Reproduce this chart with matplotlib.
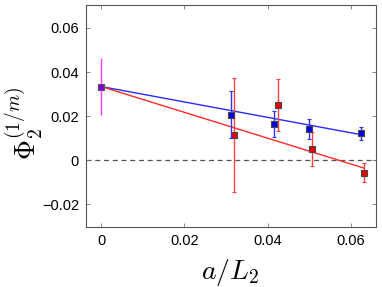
import numpy as np
import matplotlib
matplotlib.use("Agg")
import matplotlib.pyplot as plt

plt.rcParams['font.family'] = ['Liberation Sans', 'DejaVu Sans']
plt.rcParams['mathtext.fontset'] = 'cm'

# data
x0, y0, e0 = 0.0, 0.0334, 0.013

xb = [0.0312, 0.0416, 0.0499, 0.0625]
yb = [0.0207, 0.0164, 0.0143, 0.0122]
eb = [0.0106, 0.0060, 0.0045, 0.0029]

xr = [0.0319, 0.0424, 0.0506, 0.0631]
yr = [0.0114, 0.0250, 0.0051, -0.0056]
er = [0.0258, 0.0117, 0.0079, 0.0044]

fit_b = (0.0334, -0.349)
fit_r = (0.0334, -0.585)

xticks = [0, 0.02, 0.04, 0.06]
xticklabels = ['0', '0.02', '0.04', '0.06']
yticks = [-0.02, 0, 0.02, 0.04, 0.06]
yticklabels = ['\u22120.02', '0', '0.02', '0.04', '0.06']

fig = plt.figure(figsize=(3.82, 2.87), dpi=100)
ax = fig.add_axes([0.2251, 0.209, 0.7592, 0.7736])

ax.axhline(0, color='#555555', lw=0.9, ls=(0, (4, 3)), zorder=1)

xs = np.array([0, 0.0625])
ax.plot(xs, fit_b[0] + fit_b[1] * xs, color='#2a2aff', lw=1.0, zorder=2)
xs = np.array([0, 0.0631])
ax.plot(xs, fit_r[0] + fit_r[1] * xs, color='#ff2a2a', lw=1.0, zorder=2)

ax.errorbar(xr, yr, yerr=er, fmt='s', color='#ff4040', ms=4.5, mfc='#ee0000',
            mec='#444444', mew=0.8, capsize=1.5, elinewidth=1.0, zorder=3)
ax.errorbar(xb, yb, yerr=eb, fmt='s', color='#3030ff', ms=4.5, mfc='#0000ee',
            mec='#444444', mew=0.8, capsize=1.5, elinewidth=1.0, zorder=4)
ax.errorbar([x0], [y0], yerr=[e0], fmt='s', color='#ff40ff', ms=4.5, mfc='#8000d0',
            mec='#555555', mew=0.8, capsize=0, elinewidth=1.0, zorder=5)

ax.set_xlim(-0.0037, 0.0661)
ax.set_ylim(-0.0303, 0.0704)
ax.set_xticks(xticks)
ax.set_xticklabels(xticklabels)
ax.set_yticks(yticks)
ax.set_yticklabels(yticklabels)
ax.tick_params(direction='in', top=True, right=True, length=3, width=0.6,
               labelsize=10.5, color='#777777', pad=5)
for s in ax.spines.values():
    s.set_color('#555555')
    s.set_linewidth(0.8)

fig.text(0.602, 0.052, r'$a/L_2$', fontsize=20, ha='center', va='center')
fig.text(0.062, 0.57, r'$\Phi_2^{(1/m)}$', fontsize=20, ha='center', va='center',
         rotation=90)

fig.savefig('out.png', dpi=100)
